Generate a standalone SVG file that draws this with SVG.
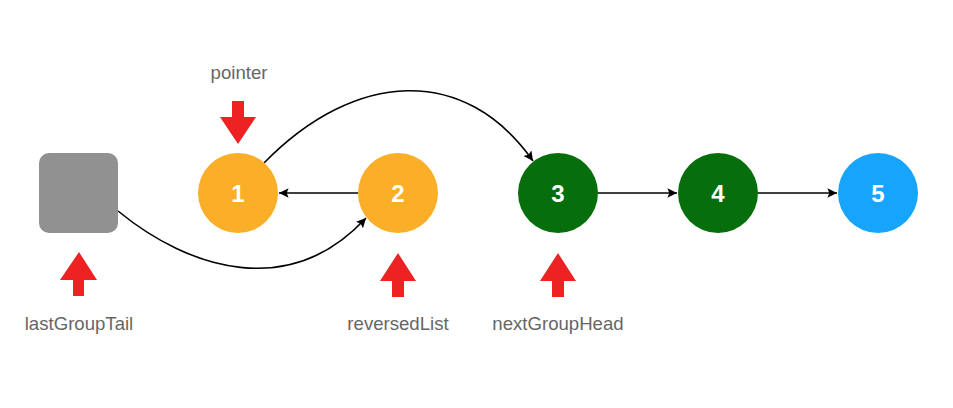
<svg xmlns="http://www.w3.org/2000/svg" width="953" height="408" viewBox="0 0 953 408">
<style>
.num{font-family:"Liberation Sans",Arial,sans-serif;font-size:24px;font-weight:bold;fill:#fff;text-anchor:middle}
.lbl{font-family:"Liberation Sans",Arial,sans-serif;font-size:18.6px;fill:#666;text-anchor:middle}
.edge{fill:none;stroke:#000;stroke-width:1.6;marker-end:url(#ah)}
.ptr{fill:#ee2222}
</style>
<defs>
<marker id="ah" viewBox="0 0 10 10" refX="10" refY="5" markerWidth="6" markerHeight="6" orient="auto" markerUnits="strokeWidth">
<path d="M0,0 L10,5 L0,10 L2,5 z" fill="#000"/>
</marker>
</defs>
<rect width="953" height="408" fill="#fff"/>
<g id="connectors">
<line class="edge" x1="358" y1="193" x2="279" y2="193"/>
<line class="edge" x1="598" y1="193" x2="677" y2="193"/>
<line class="edge" x1="758" y1="193" x2="837" y2="193"/>
<path class="edge" d="M264,163 C355,70 465,64 533,161"/>
<path class="edge" d="M118,211 C190,270 290,300 366,218"/>
</g>
<g id="lastGroupTailNode"><rect x="39" y="153" width="79" height="80" rx="10" fill="#919191"/></g>
<g id="node1"><circle cx="238" cy="193" r="40" fill="#fbae27"/><text class="num" x="238" y="202">1</text></g>
<g id="node2"><circle cx="398" cy="193" r="40" fill="#fbae27"/><text class="num" x="398" y="202">2</text></g>
<g id="node3"><circle cx="558" cy="193" r="40" fill="#066e0b"/><text class="num" x="558" y="202">3</text></g>
<g id="node4"><circle cx="718" cy="193" r="40" fill="#066e0b"/><text class="num" x="718" y="202">4</text></g>
<g id="node5"><circle cx="878" cy="193" r="40" fill="#17a4fc"/><text class="num" x="878" y="202">5</text></g>
<g id="pointer">
<text class="lbl" x="239" y="79">pointer</text>
<path class="ptr" d="M232,101 H244 V117 H256 L238,144 L220,117 H232 Z"/>
</g>
<g id="lastGroupTail">
<path class="ptr" d="M79,252 L97,280 H84 V296 H73 V280 H60 Z"/>
<text class="lbl" x="79" y="330">lastGroupTail</text>
</g>
<g id="reversedList">
<path class="ptr" d="M398,253 L416,281 H404 V297 H392 V281 H380 Z"/>
<text class="lbl" x="398" y="330">reversedList</text>
</g>
<g id="nextGroupHead">
<path class="ptr" d="M558,253 L576,281 H564 V297 H552 V281 H540 Z"/>
<text class="lbl" x="558" y="330">nextGroupHead</text>
</g>
</svg>
